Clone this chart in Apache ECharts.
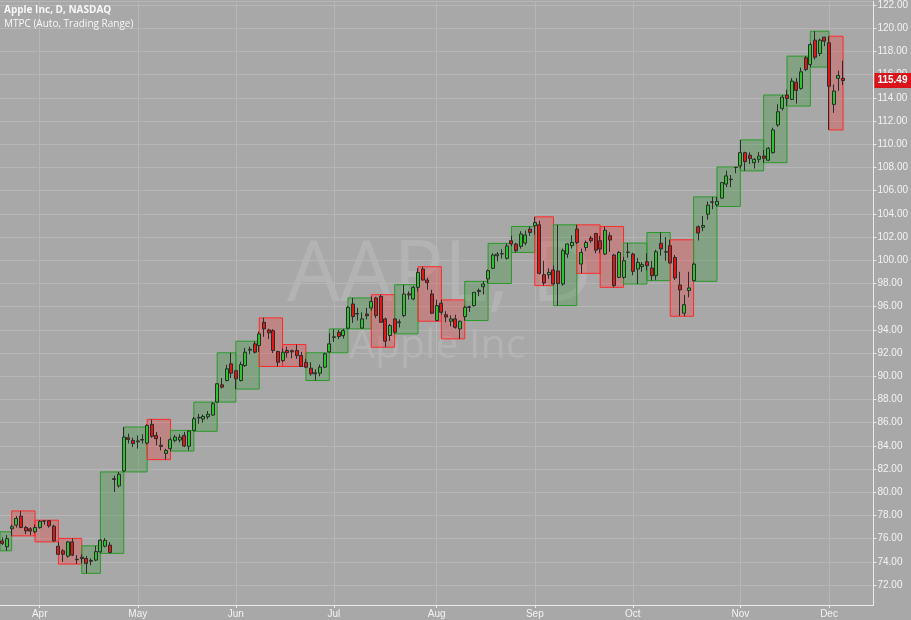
<!DOCTYPE html>
<html><head><meta charset="utf-8">
<script src="https://cdn.jsdelivr.net/npm/echarts@6/dist/echarts.min.js"></script>
<style>html,body{margin:0;padding:0;background:#a8a8a8}#c{width:911px;height:620px}</style>
</head><body><div id="c"></div>
<script>
// ---- DATA (AAPL daily, 2014) ----
const dates = [
'2014-03-17','2014-03-18','2014-03-19','2014-03-20','2014-03-21',
'2014-03-24','2014-03-25','2014-03-26','2014-03-27','2014-03-28',
'2014-03-31','2014-04-01','2014-04-02','2014-04-03','2014-04-04',
'2014-04-07','2014-04-08','2014-04-09','2014-04-10','2014-04-11',
'2014-04-14','2014-04-15','2014-04-16','2014-04-17',
'2014-04-21','2014-04-22','2014-04-23','2014-04-24','2014-04-25',
'2014-04-28','2014-04-29','2014-04-30','2014-05-01','2014-05-02',
'2014-05-05','2014-05-06','2014-05-07','2014-05-08','2014-05-09',
'2014-05-12','2014-05-13','2014-05-14','2014-05-15','2014-05-16',
'2014-05-19','2014-05-20','2014-05-21','2014-05-22','2014-05-23',
'2014-05-27','2014-05-28','2014-05-29','2014-05-30',
'2014-06-02','2014-06-03','2014-06-04','2014-06-05','2014-06-06',
'2014-06-09','2014-06-10','2014-06-11','2014-06-12','2014-06-13',
'2014-06-16','2014-06-17','2014-06-18','2014-06-19','2014-06-20',
'2014-06-23','2014-06-24','2014-06-25','2014-06-26','2014-06-27',
'2014-06-30','2014-07-01','2014-07-02','2014-07-03',
'2014-07-07','2014-07-08','2014-07-09','2014-07-10','2014-07-11',
'2014-07-14','2014-07-15','2014-07-16','2014-07-17','2014-07-18',
'2014-07-21','2014-07-22','2014-07-23','2014-07-24','2014-07-25',
'2014-07-28','2014-07-29','2014-07-30','2014-07-31','2014-08-01',
'2014-08-04','2014-08-05','2014-08-06','2014-08-07','2014-08-08',
'2014-08-11','2014-08-12','2014-08-13','2014-08-14','2014-08-15',
'2014-08-18','2014-08-19','2014-08-20','2014-08-21','2014-08-22',
'2014-08-25','2014-08-26','2014-08-27','2014-08-28','2014-08-29',
'2014-09-02','2014-09-03','2014-09-04','2014-09-05',
'2014-09-08','2014-09-09','2014-09-10','2014-09-11','2014-09-12',
'2014-09-15','2014-09-16','2014-09-17','2014-09-18','2014-09-19',
'2014-09-22','2014-09-23','2014-09-24','2014-09-25','2014-09-26',
'2014-09-29','2014-09-30','2014-10-01','2014-10-02','2014-10-03',
'2014-10-06','2014-10-07','2014-10-08','2014-10-09','2014-10-10',
'2014-10-13','2014-10-14','2014-10-15','2014-10-16','2014-10-17',
'2014-10-20','2014-10-21','2014-10-22','2014-10-23','2014-10-24',
'2014-10-27','2014-10-28','2014-10-29','2014-10-30','2014-10-31',
'2014-11-03','2014-11-04','2014-11-05','2014-11-06','2014-11-07',
'2014-11-10','2014-11-11','2014-11-12','2014-11-13','2014-11-14',
'2014-11-17','2014-11-18','2014-11-19','2014-11-20','2014-11-21',
'2014-11-24','2014-11-25','2014-11-26','2014-11-28',
'2014-12-01','2014-12-02','2014-12-03','2014-12-04'
];
const opens = [
75.39,75.78,76.50,75.80,75.30,
76.85,77.16,77.94,76.96,76.85,
76.60,76.95,77.50,77.55,77.07,
75.35,74.95,74.49,75.72,74.18,
74.40,74.29,74.05,74.15,
74.86,75.35,75.44,81.17,80.55,
81.83,84.70,84.47,84.35,84.55,
84.24,85.85,84.90,84.05,83.35,
83.76,84.47,84.50,84.90,83.96,
85.33,86.40,86.31,86.50,86.65,
87.77,89.26,89.63,91.07,
90.47,89.63,90.92,92.25,92.79,
92.65,94.65,93.99,93.93,92.13,
91.35,92.22,92.20,92.22,91.78,
91.20,90.69,90.21,90.26,90.78,
92.10,93.35,93.79,93.50,
94.14,96.23,95.40,94.15,95.36,
95.88,96.75,96.88,94.94,93.51,
94.94,94.62,95.23,97.10,96.66,
97.66,99.24,98.29,97.09,94.80,
96.29,95.30,94.74,94.94,94.08,
95.14,95.98,96.09,97.30,97.72,
98.38,99.30,100.39,100.55,100.17,
101.68,101.40,101.20,101.48,102.68,
102.97,103.05,98.75,98.75,
99.16,99.08,97.95,100.53,101.25,
102.68,99.67,101.10,101.91,102.31,
101.68,100.53,102.11,100.45,98.52,
98.52,100.70,100.53,99.24,99.45,
99.87,99.33,98.67,101.46,100.70,
101.25,100.24,97.87,95.43,97.38,
98.24,102.88,102.84,103.97,105.00,
104.77,105.35,106.56,106.95,108.01,
108.13,109.27,109.05,108.41,108.70,
108.98,108.62,109.27,111.66,113.09,
114.24,113.86,115.35,114.81,117.45,
116.87,118.97,117.82,119.23,
118.74,113.43,115.68,115.68
];
const closes = [
75.79,76.55,76.12,75.59,76.00,
77.03,77.74,76.96,76.67,76.65,
76.96,77.50,77.53,77.10,75.81,
74.65,74.66,75.72,74.58,74.22,
74.28,73.85,74.12,74.88,
75.87,75.85,74.80,81.10,81.55,
84.76,84.55,84.20,84.42,84.50,
85.76,84.82,84.62,83.95,83.60,
84.53,84.76,84.74,83.98,85.27,
86.34,86.45,86.54,86.72,87.63,
89.35,89.06,90.64,90.26,
89.78,91.01,92.07,92.32,92.07,
93.65,94.08,93.74,92.22,91.21,
92.07,92.02,92.10,91.78,90.84,
90.78,90.21,90.30,90.78,91.93,
92.79,93.40,93.42,93.93,
95.94,95.14,95.37,94.94,95.22,
96.45,95.23,94.65,93.02,94.37,
93.79,94.68,97.09,97.00,97.66,
98.95,98.29,98.06,95.43,96.09,
95.51,95.10,94.94,94.22,94.74,
95.94,95.94,97.23,97.40,97.95,
99.10,100.45,100.53,100.56,101.23,
101.40,100.82,102.26,102.17,102.39,
103.25,98.87,98.04,98.95,
97.95,97.99,100.82,101.40,101.53,
101.53,100.67,101.53,101.68,100.87,
100.97,102.59,101.74,97.81,100.67,
99.96,100.67,99.04,99.81,99.62,
99.53,98.67,100.73,100.97,100.73,
99.76,98.47,97.44,96.17,97.61,
99.67,102.34,102.99,104.75,105.03,
105.06,106.69,107.27,106.98,108.00,
109.27,108.50,108.76,108.70,108.98,
108.79,109.65,111.23,112.80,114.06,
113.95,115.44,114.64,116.24,116.44,
118.59,117.50,118.97,118.88,
115.00,114.58,115.93,115.49
];
const lows = [
75.20,75.57,75.86,75.45,74.95,
76.24,76.95,76.90,76.39,76.30,
76.45,76.86,77.20,76.95,75.72,
74.60,74.00,74.35,74.50,73.81,
73.88,73.01,73.70,74.05,
74.73,75.25,74.75,80.03,80.40,
81.75,84.20,83.90,83.76,84.20,
84.10,84.70,84.04,83.61,82.81,
83.55,84.30,84.30,83.90,83.60,
85.25,85.90,86.00,86.30,86.60,
87.77,88.95,89.55,89.85,
88.89,89.55,90.80,91.90,91.95,
92.10,93.40,93.20,92.00,90.84,
91.20,91.60,91.55,91.50,90.84,
90.70,90.05,89.63,90.00,90.70,
92.02,92.95,93.20,93.25,
94.08,94.60,94.80,94.08,94.90,
95.65,95.00,94.60,92.50,93.05,
93.65,94.20,95.10,96.60,96.55,
97.30,98.25,97.45,95.35,94.74,
95.30,94.65,94.30,94.10,93.22,
94.80,95.55,96.00,96.90,97.05,
98.00,99.25,99.90,100.15,100.05,
101.20,100.67,101.00,101.30,102.10,
102.20,98.77,97.81,98.40,
97.90,96.09,97.80,100.20,101.00,
101.40,98.87,100.80,101.50,100.60,
100.60,100.45,100.70,97.66,98.45,
98.40,100.20,98.70,97.95,99.00,
99.10,98.24,98.30,100.40,99.95,
99.70,98.30,95.20,95.17,96.80,
98.18,101.70,102.50,103.50,104.40,
104.63,105.30,106.30,106.30,107.50,
107.90,107.70,108.30,107.90,108.40,
108.41,108.55,109.20,111.50,112.90,
113.29,113.80,113.50,114.70,116.30,
116.65,117.30,117.60,118.45,
111.23,112.70,114.60,115.10
];
const highs = [
76.00,76.59,76.58,76.10,76.30,
77.21,77.95,78.39,77.10,76.98,
77.20,77.59,77.58,77.57,77.20,
75.70,75.10,75.80,76.02,74.58,
74.65,74.50,74.30,75.38,
75.95,76.05,75.70,81.43,81.75,
85.62,85.05,84.70,84.90,85.00,
85.86,86.28,85.19,84.76,83.75,
84.70,84.95,85.00,85.20,85.33,
86.50,86.75,86.70,87.00,87.77,
89.40,89.85,90.98,92.02,
90.55,91.25,92.45,92.55,93.02,
93.85,95.03,94.10,94.05,92.20,
92.40,92.55,92.30,92.73,92.10,
91.50,91.20,90.60,91.00,92.02,
93.70,94.05,94.00,94.08,
96.05,96.75,95.90,95.50,95.90,
96.89,96.85,97.03,95.05,94.50,
95.00,94.90,97.89,97.32,97.80,
99.30,99.44,98.50,97.45,96.60,
96.58,95.60,95.25,95.30,94.80,
96.08,96.08,97.24,97.55,98.18,
99.20,100.60,100.70,100.95,101.45,
102.10,101.50,102.50,102.55,102.91,
103.74,103.40,99.95,99.30,
99.55,103.05,101.00,101.45,102.15,
103.05,101.00,101.70,102.10,102.35,
102.10,102.91,102.40,100.55,100.80,
100.30,101.48,100.65,100.20,99.85,
100.60,99.95,100.90,102.39,102.00,
101.76,100.45,99.00,97.00,99.00,
99.81,103.00,103.80,105.05,105.46,
105.45,106.75,107.71,107.35,108.04,
110.37,109.35,109.30,108.80,109.32,
109.50,109.75,111.43,113.45,114.24,
114.70,115.69,115.70,116.60,117.59,
118.74,119.74,119.10,119.25,
119.31,115.15,116.35,117.20
];
const padDates = ['2014-12-05','2014-12-08','2014-12-09','2014-12-10','2014-12-11','2014-12-12'];
const firstVisible = 3;               // 2014-03-20
const lastPrice = 115.49;
const monthNames = ['Jan','Feb','Mar','Apr','May','Jun','Jul','Aug','Sep','Oct','Nov','Dec'];
const yMin = 70.28, yMax = 122.32, yStep = 2;
const titleText = 'Apple Inc, D, NASDAQ';
const indicatorText = 'MTPC (Auto, Trading Range)';
const wmMain = 'AAPL, D';
const wmSub = 'Apple Inc';

// ---- derived ----
const categories = dates.concat(padDates);
const candles = dates.map((d, i) => [opens[i], closes[i], lows[i], highs[i]]);
const monthStart = new Set();
for (let i = 1; i < categories.length; i++) {
  if (categories[i].slice(5, 7) !== categories[i - 1].slice(5, 7)) monthStart.add(i);
}
// weekly ranges (MTPC weekly boxes)
const weeks = [];
let cur = null;
for (let i = 0; i < dates.length; i++) {
  const t = new Date(dates[i] + 'T00:00:00Z');
  const dow = t.getUTCDay();
  const newWeek = !cur || dow <= cur.dow || (t - cur.t) > 6 * 864e5;
  if (newWeek) { cur = {start: i, end: i, hi: highs[i], lo: lows[i], o: opens[i], c: closes[i], dow, t}; weeks.push(cur); }
  else { cur.end = i; cur.hi = Math.max(cur.hi, highs[i]); cur.lo = Math.min(cur.lo, lows[i]); cur.c = closes[i]; cur.dow = dow; cur.t = t; }
}
const boxData = weeks.map((w, k) => {
  const x1 = k + 1 < weeks.length ? weeks[k + 1].start : w.end;
  return [w.start, x1, w.hi, w.lo, w.c >= w.o ? 1 : -1];
});

const chart = echarts.init(document.getElementById('c'));
const labelColor = '#f3f3f3';
chart.setOption({
  backgroundColor: '#a8a8a8',
  animation: false,
  grid: {left: 0, right: 35, top: 0, bottom: 15},
  xAxis: {
    type: 'category', data: categories, boundaryGap: true,
    min: firstVisible, max: categories.length - 1,
    axisLine: {show: true, lineStyle: {color: '#e9e9e9', width: 1}},
    axisTick: {show: true, alignWithLabel: true, length: 3, lineStyle: {color: '#e9e9e9'},
      interval: (i) => monthStart.has(i)},
    axisLabel: {interval: (i) => monthStart.has(i), color: labelColor, fontSize: 10,
      fontFamily: 'Liberation Sans', margin: 4,
      formatter: (v) => monthNames[parseInt(v.slice(5, 7), 10) - 1]},
    splitLine: {show: true, alignWithLabel: true, interval: (i) => monthStart.has(i),
      lineStyle: {color: '#b6b6b6', width: 1}}
  },
  yAxis: {
    type: 'value', position: 'right', min: yMin, max: yMax,
    minInterval: yStep, maxInterval: yStep, splitNumber: 26, scale: true,
    axisLine: {show: true, lineStyle: {color: '#e9e9e9', width: 1}},
    axisTick: {show: true, length: 3, lineStyle: {color: '#e9e9e9'}},
    axisLabel: {color: labelColor, fontSize: 10, fontFamily: 'Liberation Sans', margin: 4,
      showMinLabel: false, showMaxLabel: false, formatter: (v) => v.toFixed(2)},
    splitLine: {show: true, lineStyle: {color: '#b6b6b6', width: 1}}
  },
  graphic: [
    {type: 'text', left: 287, top: 235, z: 0, silent: true,
      style: {text: wmMain, font: '84px "Open Sans"', fill: 'rgba(255,255,255,0.13)'}},
    {type: 'text', left: 349, top: 326, z: 0, silent: true,
      style: {text: wmSub, font: '41px "Open Sans"', fill: 'rgba(255,255,255,0.13)'}},
    {type: 'text', left: 4, top: 5, z: 100,
      style: {text: titleText, font: 'bold 10px "Open Sans"', fill: '#f7f7f7'}},
    {type: 'text', left: 4, top: 19, z: 100,
      style: {text: indicatorText, font: '10px "Open Sans"', fill: '#f7f7f7'}}
  ],
  series: [
    {
      type: 'custom', name: 'MTPC', z: 1,
      data: boxData,
      encode: {x: [0, 1], y: [2, 3]},
      renderItem: (params, api) => {
        const p1 = api.coord([api.value(0), api.value(2)]);
        const p2 = api.coord([api.value(1), api.value(3)]);
        const up = api.value(4) > 0;
        const cs = params.coordSys;
        const shape = echarts.graphic.clipRectByRect(
          {x: p1[0], y: p1[1], width: p2[0] - p1[0], height: p2[1] - p1[1]},
          {x: cs.x, y: cs.y, width: cs.width, height: cs.height});
        if (!shape) return null;
        return {type: 'rect', shape,
          style: {fill: up ? 'rgba(20,140,20,0.25)' : 'rgba(255,40,40,0.27)',
                  stroke: up ? '#2a9a2a' : '#ff2a2a', lineWidth: 1}};
      }
    },
    {
      type: 'candlestick', name: 'AAPL', z: 3,
      data: candles, barWidth: 3.5,
      itemStyle: {color: '#2cc52c', color0: '#e31616', borderColor: '#2b2b2b', borderColor0: '#2b2b2b', borderWidth: 1},
      markLine: {
        silent: true, symbol: 'none', animation: false,
        lineStyle: {color: 'rgba(0,0,0,0)', width: 0.01},
        data: [{yAxis: lastPrice}],
        label: {show: true, position: 'end', distance: 1, formatter: lastPrice.toFixed(2),
          color: '#ffffff', fontWeight: 'bold', fontSize: 10, fontFamily: 'Liberation Sans',
          backgroundColor: '#d9141b', padding: [3, 4, 2, 3]}
      }
    }
  ]
});
</script></body></html>
